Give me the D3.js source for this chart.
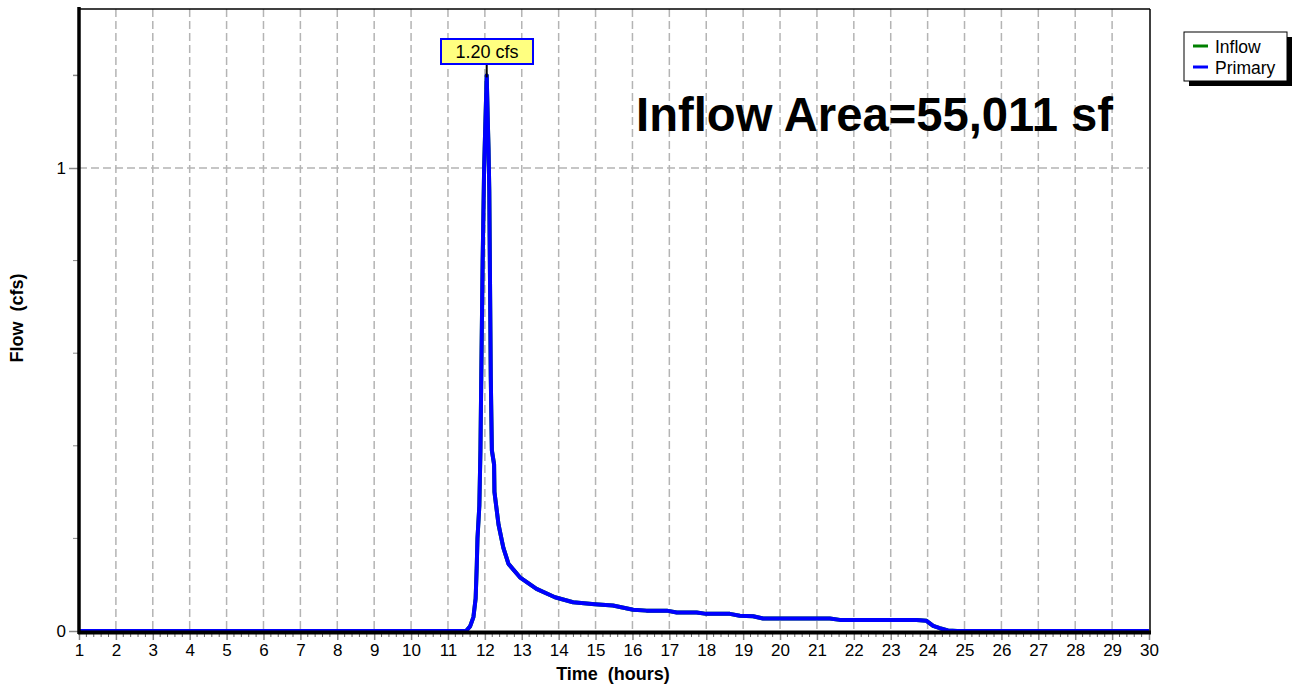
<!DOCTYPE html>
<html>
<head>
<meta charset="utf-8">
<script src="https://cdn.jsdelivr.net/npm/d3@7"></script>
<style>
  html, body { margin: 0; padding: 0; background: #fff; }
  svg { display: block; font-family: "Liberation Sans", Arial, sans-serif; }
  svg text { white-space: pre; }
</style>
</head>
<body>
<svg id="chart" width="1294" height="686"></svg>
<script>
// ---- data ----
const timeHours = [1, 11.49, 11.60, 11.69, 11.75, 11.78, 11.80, 11.85, 11.88, 11.91, 11.94, 11.98, 12.05,
  12.08, 12.10, 12.12, 12.13, 12.14, 12.16, 12.19, 12.25, 12.26, 12.37, 12.50, 12.64, 12.95, 13.40, 13.90,
  14.39, 14.98, 15.47, 16.02, 16.38, 16.93, 17.20, 17.74, 18.00, 18.64, 18.91, 19.27, 19.54, 21.35, 21.62,
  23.70, 23.97, 24.15, 24.33, 24.55, 24.80, 30];
const primaryFlow = [0, 0, 0.01, 0.03, 0.07, 0.14, 0.20, 0.27, 0.39, 0.60, 0.80, 1.00, 1.20,
  1.10, 1.04, 0.95, 0.85, 0.75, 0.55, 0.39, 0.36, 0.30, 0.23, 0.18, 0.145, 0.116, 0.091, 0.073,
  0.062, 0.058, 0.055, 0.046, 0.044, 0.044, 0.040, 0.040, 0.037, 0.037, 0.033, 0.032, 0.027, 0.027, 0.024,
  0.024, 0.022, 0.011, 0.006, 0.001, 0, 0];
const inflowFlow = primaryFlow.slice(); // Inflow hydrograph coincides with Primary (hidden beneath it)
const xTickValues = d3.range(1, 31);
const yTickValues = [0, 1];
const yMinorTicks = [0.2, 0.4, 0.6, 0.8];
const peakValue = 1.20;
const peakTime = 12.05;
const peakLabel = "1.20 cfs";
const areaLabel = "Inflow Area=55,011 sf";
const legendItems = [{name: "Inflow", color: "#008000"}, {name: "Primary", color: "#0000ff"}];
const xTitle = "Time  (hours)";
const yTitle = "Flow  (cfs)";

(function () {
// ---- layout ----
const svg = d3.select("#chart");
const pL = 79, pR = 1149, pT = 9, pB = 631;
const x = d3.scaleLinear().domain([1, 30]).range([pL, pR]);
const y = d3.scaleLinear().domain([0, (pB - pT) / 463]).range([pB, pT]);

// grid
const grid = svg.append("g");
grid.selectAll("line.v").data(xTickValues.filter(d => d > 1 && d < 30)).enter().append("line")
  .attr("x1", d => x(d)).attr("x2", d => x(d)).attr("y1", pT).attr("y2", pB)
  .attr("stroke", "#b4b4b4").attr("stroke-width", 1.5).attr("stroke-dasharray", "8,4");
grid.selectAll("line.h").data(yTickValues.filter(d => d > 0)).enter().append("line")
  .attr("x1", pL).attr("x2", pR).attr("y1", d => y(d)).attr("y2", d => y(d))
  .attr("stroke", "#b4b4b4").attr("stroke-width", 1.5).attr("stroke-dasharray", "8,4");

// frame top/right
svg.append("line").attr("x1", pL).attr("x2", pR + 1).attr("y1", pT).attr("y2", pT)
  .attr("stroke", "#000").attr("stroke-width", 1.5);
svg.append("line").attr("x1", pR + 1).attr("x2", pR + 1).attr("y1", pT).attr("y2", pB)
  .attr("stroke", "#000").attr("stroke-width", 1.5);

// x axis
const xAxis = d3.axisBottom(x).tickValues(xTickValues).tickFormat(d3.format("d")).tickSize(8).tickPadding(4);
const gx = svg.append("g").attr("transform", `translate(0,${pB + 1})`).call(xAxis);
gx.select(".domain").remove();
gx.selectAll(".tick line").attr("stroke", "#888").attr("stroke-width", 1.5);
gx.selectAll(".tick text").attr("font-size", 17).attr("fill", "#000")
  .attr("font-family", "Liberation Sans, Arial, sans-serif");
const minorX = d3.range(1, 30, 0.2).filter(d => Math.abs(d - Math.round(d)) > 0.01);
svg.append("g").selectAll("line").data(minorX).enter().append("line")
  .attr("x1", d => x(d)).attr("x2", d => x(d)).attr("y1", pB + 2).attr("y2", pB + 6)
  .attr("stroke", "#666").attr("stroke-width", 1);

// y axis
const yAxis = d3.axisLeft(y).tickValues(yTickValues).tickFormat(d3.format("d")).tickSize(10).tickPadding(3);
const gy = svg.append("g").attr("transform", `translate(${pL},0)`).call(yAxis);
gy.select(".domain").remove();
gy.selectAll(".tick line").attr("stroke", "#888").attr("stroke-width", 1.5);
gy.selectAll(".tick text").attr("font-size", 17).attr("fill", "#000")
  .attr("font-family", "Liberation Sans, Arial, sans-serif");
svg.append("g").selectAll("line").data(yMinorTicks).enter().append("line")
  .attr("x1", pL - 6).attr("x2", pL).attr("y1", d => y(d)).attr("y2", d => y(d))
  .attr("stroke", "#888").attr("stroke-width", 1);
// peak tick on y axis
svg.append("line").attr("x1", pL - 6).attr("x2", pL).attr("y1", y(peakValue)).attr("y2", y(peakValue))
  .attr("stroke", "#888").attr("stroke-width", 1.5);

// series
const line = d3.line().x((d, i) => x(timeHours[i])).y(d => y(d));
svg.append("path").datum(inflowFlow).attr("d", line).attr("fill", "none")
  .attr("stroke", "#008000").attr("stroke-width", 4).attr("stroke-linejoin", "round");
svg.append("path").datum(primaryFlow).attr("d", line).attr("fill", "none")
  .attr("stroke", "#0000ff").attr("stroke-width", 4).attr("stroke-linejoin", "round");

// axis lines (thick, drawn over the series)
svg.append("line").attr("x1", pL - 1).attr("x2", pR + 2).attr("y1", pB + 1.5).attr("y2", pB + 1.5)
  .attr("stroke", "#000").attr("stroke-width", 4);
svg.append("line").attr("x1", pL).attr("x2", pL).attr("y1", pT - 2).attr("y2", pB + 3)
  .attr("stroke", "#000").attr("stroke-width", 3.5);

// peak label
const px = x(peakTime), py = y(peakValue);
svg.append("line").attr("x1", px).attr("x2", px).attr("y1", 64).attr("y2", py + 2)
  .attr("stroke", "#000").attr("stroke-width", 2);
svg.append("rect").attr("x", 441).attr("y", 39).attr("width", 92).attr("height", 25)
  .attr("fill", "#ffff80").attr("stroke", "#0000ff").attr("stroke-width", 2);
svg.append("text").attr("x", 487).attr("y", 58).attr("text-anchor", "middle")
  .attr("font-size", 18).text(peakLabel);

// area label
svg.append("text").attr("x", 1113).attr("y", 131).attr("text-anchor", "end")
  .attr("font-size", 47.2).attr("font-weight", "bold").text(areaLabel);

// axis titles
svg.append("text").attr("x", 613).attr("y", 680).attr("text-anchor", "middle")
  .attr("font-size", 18).attr("font-weight", "bold").text(xTitle);
svg.append("text").attr("transform", "translate(23,318) rotate(-90)").attr("text-anchor", "middle")
  .attr("font-size", 18).attr("font-weight", "bold").text(yTitle);

// legend
const lg = svg.append("g");
lg.append("rect").attr("x", 1189).attr("y", 37).attr("width", 103).attr("height", 49).attr("fill", "#000");
lg.append("rect").attr("x", 1184).attr("y", 32).attr("width", 103).attr("height", 49)
  .attr("fill", "#fff").attr("stroke", "#000").attr("stroke-width", 1);
legendItems.forEach((it, i) => {
  const yy = 46 + i * 21;
  lg.append("line").attr("x1", 1193).attr("x2", 1208).attr("y1", yy).attr("y2", yy)
    .attr("stroke", it.color).attr("stroke-width", 3);
  lg.append("text").attr("x", 1215).attr("y", yy + 6.5).attr("font-size", 17.5).text(it.name);
});
})();
</script>
</body>
</html>
